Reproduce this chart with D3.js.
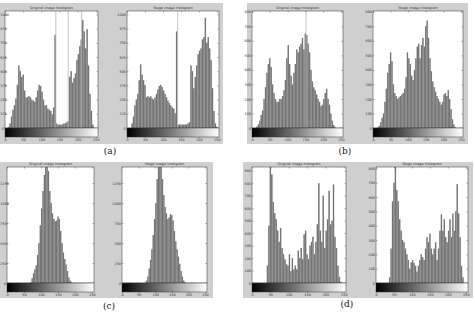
<!DOCTYPE html>
<html>
<head>
<meta charset="utf-8">
<script src="https://cdn.jsdelivr.net/npm/d3@7/dist/d3.min.js"></script>
<style>
  body { margin: 0; background: #fff; }
  svg { display: block; }
</style>
</head>
<body>
<div id="chart"></div>
<script>
// gray-level bins (start of each 4-level bin) and x tick labels
const binStarts = d3.range(0, 256, 4);
const xTicks = [0, 50, 100, 150, 200, 250];
const titles = ['Original image histogram', 'Stego image histogram'];
const panelLabels = ['(a)', '(b)', '(c)', '(d)'];

// (a)
const histA1 = [0, 0, 10, 40, 100, 160, 200, 260, 380, 550, 500, 450, 470, 330, 270, 270,
  280, 270, 250, 240, 230, 270, 330, 380, 370, 320, 250, 200, 200, 170, 160, 150,
  120, 180, 820, 40, 30, 30, 30, 30, 40, 40, 50, 60, 450, 500, 400, 440,
  480, 600, 650, 720, 780, 950, 850, 700, 870, 550, 300, 150, 30, 0, 0, 0];
const histA2 = [0, 0, 0, 40, 100, 200, 250, 300, 420, 560, 470, 420, 380, 270, 280, 270,
  280, 260, 250, 270, 300, 340, 370, 380, 360, 330, 300, 270, 240, 220, 200, 180,
  170, 130, 850, 30, 30, 30, 30, 30, 30, 30, 40, 50, 550, 500, 350, 450,
  550, 650, 680, 700, 780, 800, 970, 750, 800, 700, 600, 350, 150, 40, 10, 0];
const spikesA1 = [140, 174, 211];
const spikesA2 = [141];
const yTicksA = [0, 125, 250, 375, 500, 625, 750, 875, 1000];

// (b)
const histB1 = [0, 0, 0, 10, 25, 50, 90, 120, 200, 280, 380, 440, 480, 420, 300, 240,
  200, 180, 180, 200, 200, 220, 260, 330, 480, 570, 440, 360, 300, 380, 440, 540,
  520, 560, 580, 620, 540, 650, 640, 580, 520, 400, 320, 280, 260, 230, 200, 180,
  150, 160, 200, 240, 270, 200, 160, 100, 50, 20, 5, 0, 0, 0, 0, 0];
const histB2 = [0, 0, 0, 5, 15, 40, 70, 100, 180, 270, 380, 440, 520, 460, 300, 240,
  220, 200, 210, 220, 230, 240, 270, 350, 520, 480, 440, 360, 330, 400, 480, 560,
  580, 480, 570, 620, 560, 700, 740, 620, 480, 390, 320, 280, 250, 220, 200, 180,
  160, 180, 230, 240, 220, 260, 200, 130, 60, 25, 5, 0, 0, 0, 0, 0];
const spikesB1 = [152];
const spikesB2 = [];
const yTicksB = [0, 100, 200, 300, 400, 500, 600, 700, 800];

// (c)
const histC1 = [0, 0, 0, 0, 0, 0, 0, 0, 0, 0, 0, 0, 0, 0, 0, 0,
  0, 5, 60, 120, 170, 220, 350, 500, 720, 930, 1150, 1350, 1500, 1550, 1400, 1150,
  1000, 870, 800, 770, 780, 830, 800, 650, 500, 380, 300, 230, 150, 70, 30, 10,
  0, 0, 0, 0, 0, 0, 0, 0, 0, 0, 0, 0, 0, 0, 0, 0];
const histC2 = [0, 0, 0, 0, 0, 0, 0, 0, 0, 0, 0, 0, 0, 0, 0, 0,
  0, 5, 30, 80, 180, 290, 420, 600, 800, 1000, 1300, 1500, 1550, 1500, 1300, 1100,
  950, 870, 800, 820, 860, 850, 780, 650, 520, 420, 330, 240, 150, 80, 30, 10,
  0, 0, 0, 0, 0, 0, 0, 0, 0, 0, 0, 0, 0, 0, 0, 0];
const yTicksC = [0, 250, 500, 750, 1000, 1250];

// (d)
const histD1 = [0, 0, 0, 0, 0, 0, 0, 0, 0, 0, 140, 460, 950, 870, 650, 560,
  510, 420, 330, 440, 280, 230, 190, 150, 140, 230, 95, 200, 110, 140, 110, 260,
  200, 280, 190, 390, 420, 230, 190, 300, 330, 370, 230, 330, 470, 800, 420, 330,
  700, 280, 420, 510, 740, 470, 500, 790, 370, 280, 140, 50, 10, 0, 0, 0];
const histD2 = [0, 0, 0, 0, 0, 0, 0, 0, 0, 40, 240, 570, 700, 850, 650, 570,
  445, 365, 300, 285, 240, 200, 160, 100, 145, 160, 140, 120, 80, 120, 160, 200,
  180, 160, 240, 320, 285, 345, 240, 200, 240, 285, 160, 240, 365, 480, 365, 445,
  320, 285, 365, 445, 320, 485, 365, 500, 690, 485, 320, 120, 40, 0, 0, 0];
const yTicksD1 = [0, 100, 200, 300, 400, 500, 600, 700, 800, 900];
const yTicksD2 = [0, 100, 200, 300, 400, 500, 600, 700, 800];

// layout
const svgWidth = 475;
const svgHeight = 313;
const cbarH = 9;

const panels = [
  {bg: [0, 3, 223, 141], lab: [110, 154], plots: [
    {x: 5, y: 11, w: 93, h: 117, data: histA1, ymax: 1030, ticks: yTicksA, spikes: spikesA1},
    {x: 127, y: 11, w: 92, h: 117, data: histA2, ymax: 1030, ticks: yTicksA, spikes: spikesA2}]},
  {bg: [247, 3, 221, 141], lab: [345, 154], plots: [
    {x: 252, y: 11, w: 91, h: 117, data: histB1, ymax: 805, ticks: yTicksB, spikes: spikesB1},
    {x: 373, y: 11, w: 90, h: 117, data: histB2, ymax: 805, ticks: yTicksB, spikes: spikesB2}]},
  {bg: [0, 162, 213, 136], lab: [109, 309], plots: [
    {x: 7, y: 167, w: 87, h: 116, data: histC1, ymax: 1450, ticks: yTicksC, spikes: []},
    {x: 122, y: 167, w: 85, h: 116, data: histC2, ymax: 1450, ticks: yTicksC, spikes: []}]},
  {bg: [243, 162, 230, 136], lab: [347, 307], plots: [
    {x: 252, y: 167, w: 94, h: 116, data: histD1, ymax: 930, ticks: yTicksD1, spikes: []},
    {x: 376, y: 167, w: 92, h: 116, data: histD2, ymax: 810, ticks: yTicksD2, spikes: []}]}
];

const svg = d3.select('#chart')
    .append('svg')
    .attr('width', svgWidth)
    .attr('height', svgHeight);

const defs = svg.append('defs');
const grad = defs.append('linearGradient').attr('id', 'gray');
grad.append('stop').attr('offset', '0%').attr('stop-color', '#000');
grad.append('stop').attr('offset', '100%').attr('stop-color', '#fff');

const tinyText = sel => sel
    .style('font-family', '"DejaVu Sans", sans-serif')
    .style('font-size', '3.4px')
    .attr('fill', '#333');

panels.forEach((p, pi) => {
  svg.append('rect')
      .attr('x', p.bg[0]).attr('y', p.bg[1])
      .attr('width', p.bg[2]).attr('height', p.bg[3])
      .attr('fill', '#cfcfcf');

  svg.append('text')
      .attr('x', p.lab[0]).attr('y', p.lab[1])
      .attr('text-anchor', 'middle')
      .style('font-family', '"DejaVu Serif", serif')
      .style('font-size', '9px')
      .attr('fill', '#111')
      .text(panelLabels[pi]);

  p.plots.forEach((pl, k) => {
    const id = `clip${pi}${k}`;
    defs.append('clipPath').attr('id', id)
        .append('rect').attr('x', pl.x).attr('y', pl.y)
        .attr('width', pl.w).attr('height', pl.h);

    const x = d3.scaleLinear().domain([0, 256]).range([pl.x, pl.x + pl.w]);
    const y = d3.scaleLinear().domain([0, pl.ymax]).range([pl.y + pl.h, pl.y]);

    svg.append('rect')
        .attr('x', pl.x).attr('y', pl.y)
        .attr('width', pl.w).attr('height', pl.h)
        .attr('fill', '#fff');

    const g = svg.append('g').attr('clip-path', `url(#${id})`);

    g.selectAll('rect.bar')
        .data(pl.data)
        .join('rect')
        .classed('bar', true)
        .attr('x', (d, i) => x(binStarts[i]))
        .attr('width', (d, i) => x(binStarts[i] + 4) - x(binStarts[i]))
        .attr('y', d => y(d))
        .attr('height', d => y(0) - y(d))
        .attr('fill', '#8c8c8c');

    // stems
    g.selectAll('line.stem')
        .data(pl.data)
        .join('line')
        .classed('stem', true)
        .attr('x1', (d, i) => x(binStarts[i] + 2))
        .attr('x2', (d, i) => x(binStarts[i] + 2))
        .attr('y1', y(0))
        .attr('y2', d => y(d))
        .attr('stroke', '#5a5a5a')
        .attr('stroke-width', 0.5);

    g.selectAll('line.spike')
        .data(pl.spikes)
        .join('line')
        .classed('spike', true)
        .attr('x1', d => x(d)).attr('x2', d => x(d))
        .attr('y1', y(0)).attr('y2', pl.y)
        .attr('stroke', '#b4b4b4')
        .attr('stroke-width', 0.8);

    // axes with inward ticks
    const left = svg.append('g')
        .attr('transform', `translate(${pl.x},0)`)
        .call(d3.axisLeft(y).tickValues(pl.ticks).tickFormat(d3.format('d'))
            .tickSize(-1.5).tickPadding(1));
    const right = svg.append('g')
        .attr('transform', `translate(${pl.x + pl.w},0)`)
        .call(d3.axisRight(y).tickValues(pl.ticks).tickSize(-1.5).tickFormat(''));
    const top = svg.append('g')
        .attr('transform', `translate(0,${pl.y})`)
        .call(d3.axisTop(x).tickValues(xTicks).tickSize(-1.5).tickFormat(''));
    [left, right, top].forEach(a => {
      a.select('.domain').remove();
      a.selectAll('line').attr('stroke', '#333').attr('stroke-width', 0.4);
      a.selectAll('text').call(tinyText);
    });
    // keep y labels inside the page on the far-left plots
    left.selectAll('text').each(function() {
      const w = this.getComputedTextLength();
      if (w > pl.x - 1) {
        d3.select(this).attr('text-anchor', 'start').attr('x', 0.3 - pl.x);
      }
    });

    svg.append('rect')
        .attr('x', pl.x).attr('y', pl.y)
        .attr('width', pl.w).attr('height', pl.h)
        .attr('fill', 'none')
        .attr('stroke', '#333')
        .attr('stroke-width', 0.5);

    // gray-level colour bar
    svg.append('rect')
        .attr('x', pl.x).attr('y', pl.y + pl.h)
        .attr('width', pl.w).attr('height', cbarH)
        .attr('fill', 'url(#gray)')
        .attr('stroke', '#333')
        .attr('stroke-width', 0.5);

    const bottom = svg.append('g')
        .attr('transform', `translate(0,${pl.y + pl.h + cbarH})`)
        .call(d3.axisBottom(x).tickValues(xTicks).tickSize(1).tickPadding(1));
    bottom.select('.domain').remove();
    bottom.selectAll('line').attr('stroke', '#333').attr('stroke-width', 0.4);
    bottom.selectAll('text').call(tinyText);

    svg.append('text')
        .attr('x', pl.x + pl.w / 2).attr('y', pl.y - 2)
        .attr('text-anchor', 'middle')
        .call(tinyText)
        .text(titles[k]);
  });
});
</script>
</body>
</html>
